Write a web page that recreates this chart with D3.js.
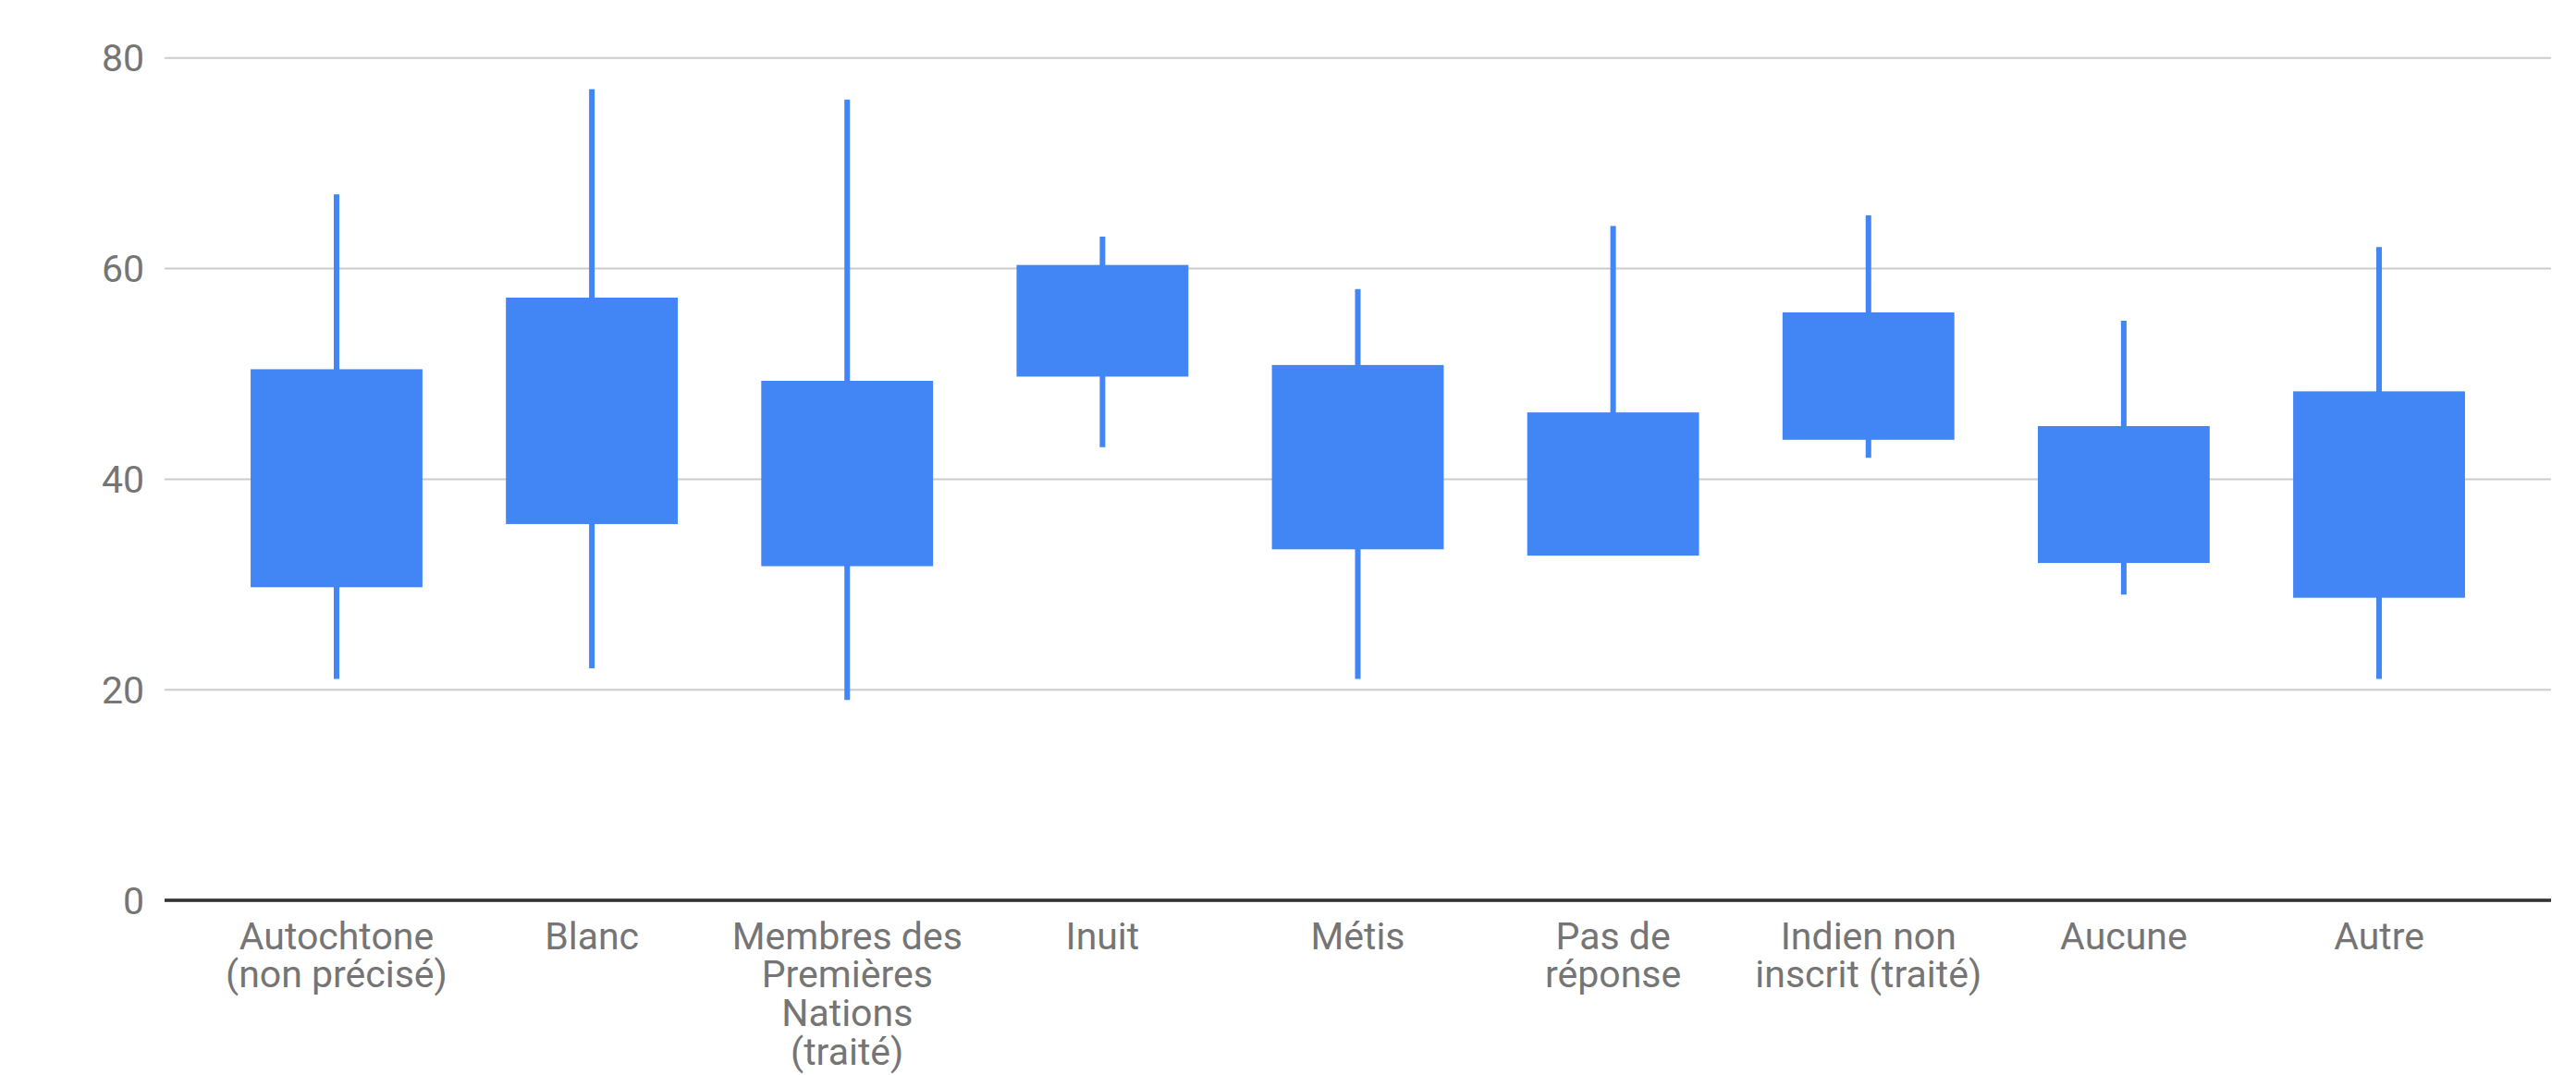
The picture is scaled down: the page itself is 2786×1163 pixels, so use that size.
<!DOCTYPE html>
<html>
<head>
<meta charset="utf-8">
<script src="https://cdn.jsdelivr.net/npm/d3@7"></script>
<style>
  html, body { margin: 0; padding: 0; background: #ffffff; }
  svg { display: block; }
  .tick text { font-family: Roboto, "Noto Sans", sans-serif; fill: #757575; }
</style>
</head>
<body>
<svg id="chart" width="2786" height="1163"></svg>
<script>
// Categories (label lines as wrapped under the axis)
const categories = [
  "Autochtone (non précisé)",
  "Blanc",
  "Membres des Premières Nations (traité)",
  "Inuit",
  "Métis",
  "Pas de réponse",
  "Indien non inscrit (traité)",
  "Aucune",
  "Autre"
];
const categoryLines = [
  ["Autochtone", "(non précisé)"],
  ["Blanc"],
  ["Membres des", "Premières", "Nations", "(traité)"],
  ["Inuit"],
  ["Métis"],
  ["Pas de", "réponse"],
  ["Indien non", "inscrit (traité)"],
  ["Aucune"],
  ["Autre"]
];

// Candlestick series: whisker low / high and box bottom / top
const lowValues  = [21,   22,   19,   43,   21,   32.7, 42,   29, 21];
const boxBottom  = [29.7, 35.7, 31.7, 49.7, 33.3, 32.7, 43.7, 32, 28.7];
const boxTop     = [50.4, 57.2, 49.3, 60.3, 50.8, 46.3, 55.8, 45, 48.3];
const highValues = [67,   77,   76,   63,   58,   64,   65,   55, 62];

const yTicks = [0, 20, 40, 60, 80];

const rows = categories.map((c, i) => ({
  category: c,
  low: lowValues[i],
  bottom: boxBottom[i],
  top: boxTop[i],
  high: highValues[i]
}));

const svg = d3.select("#chart");
const plotLeft = 178, plotRight = 2759, plotTop = 62.2, plotBottom = 973.7;

const x = d3.scaleBand()
  .domain(categories)
  .range([plotLeft, plotRight])
  .paddingInner(0.327)
  .paddingOuter(0.337);

const y = d3.scaleLinear()
  .domain([0, 80])
  .range([plotBottom, plotTop]);

const fontSize = 41;

// Horizontal gridlines and value labels
const yAxis = svg.append("g")
  .attr("transform", `translate(${plotLeft},0)`)
  .call(d3.axisLeft(y).tickValues(yTicks).tickSize(-(plotRight - plotLeft)).tickPadding(22));
yAxis.select(".domain").remove();
yAxis.selectAll(".tick line")
  .attr("stroke", d => d === 0 ? "#333333" : "#cccccc")
  .attr("stroke-width", d => d === 0 ? 3 : 2);
yAxis.selectAll(".tick text")
  .style("font-size", fontSize + "px")
  .attr("dy", "0.36em");

// Whiskers
const blue = "#4285f4";
svg.append("g").selectAll("line")
  .data(rows)
  .join("line")
  .attr("x1", d => x(d.category) + x.bandwidth() / 2)
  .attr("x2", d => x(d.category) + x.bandwidth() / 2)
  .attr("y1", d => y(d.low))
  .attr("y2", d => y(d.high))
  .attr("stroke", blue)
  .attr("stroke-width", 6);

// Boxes
svg.append("g").selectAll("rect")
  .data(rows)
  .join("rect")
  .attr("x", d => x(d.category))
  .attr("width", x.bandwidth())
  .attr("y", d => y(d.top))
  .attr("height", d => y(d.bottom) - y(d.top))
  .attr("fill", blue);

// Baseline drawn above the marks
svg.append("line")
  .attr("x1", plotLeft).attr("x2", plotRight)
  .attr("y1", y(0)).attr("y2", y(0))
  .attr("stroke", "#333333")
  .attr("stroke-width", 3);

// Category labels, wrapped over several lines
const xAxis = svg.append("g")
  .attr("transform", `translate(0,${plotBottom})`)
  .call(d3.axisBottom(x).tickSize(0).tickFormat(() => ""));
xAxis.select(".domain").remove();
xAxis.selectAll(".tick text").remove();
xAxis.selectAll(".tick").each(function(d, i) {
  const t = d3.select(this).append("text")
    .attr("text-anchor", "middle")
    .attr("y", 53)
    .style("font-size", fontSize + "px");
  categoryLines[i].forEach((line, k) => {
    t.append("tspan")
      .attr("x", 0)
      .attr("dy", k === 0 ? 0 : 41.7)
      .text(line);
  });
});
</script>
</body>
</html>
